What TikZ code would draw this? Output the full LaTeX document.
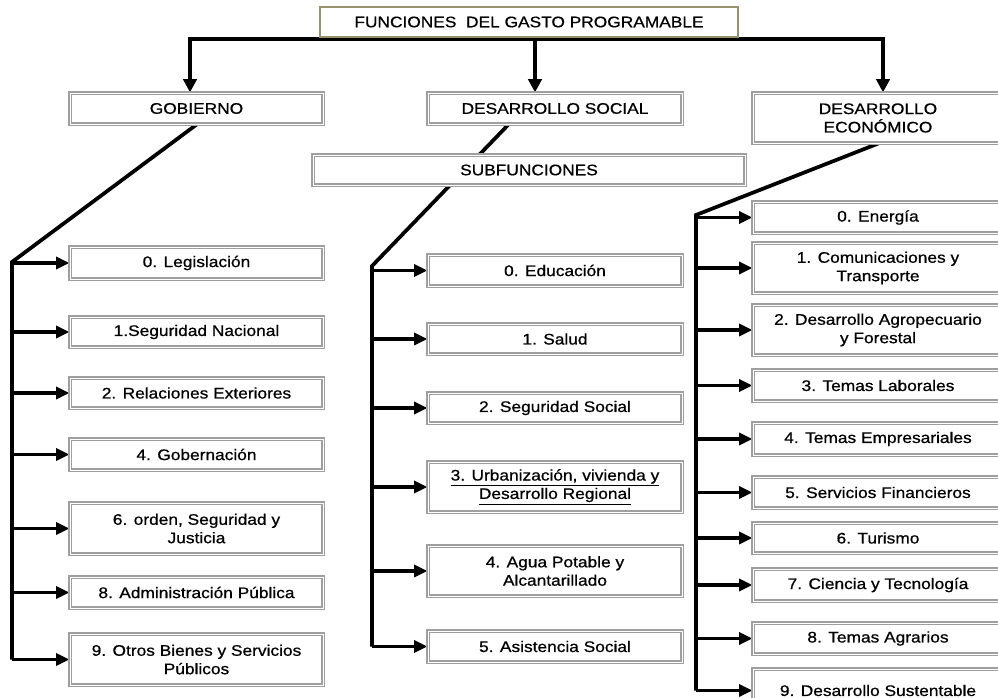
\documentclass[tikz,border=0pt]{standalone}
\usepackage{fontspec}
\setmainfont{Liberation Sans}[FakeStretch=1.13,FakeBold=0.7]
\usetikzlibrary{arrows.meta,backgrounds}
\definecolor{topborder}{RGB}{150,145,110}
\newcommand\mybox[6]{\node[box,minimum width={(#4-#2)*0.75pt},minimum height={(#5-#3)*0.75pt}] (#1) at ({(#2+#4)/2},{(#3+#5)/2}) {#6};}
\begin{document}
\begin{tikzpicture}[x=0.75pt,y=-0.75pt,
  box/.style={draw=gray!75,line width=0.9pt,double=white,double distance=0.6pt,fill=white,
    inner sep=0pt,align=center,font=\fontsize{11.5pt}{13.8pt}\selectfont},
  topbox/.style={draw=topborder,line width=1.2pt,fill=white,
    inner sep=0pt,align=center,font=\fontsize{11.5pt}{13.8pt}\selectfont},
  conn/.style={line width=2.8pt,line join=miter},
  arr/.style={line width=2.8pt,-{Triangle[length=10pt,width=9pt]}},
  tarr/.style={line width=2.8pt,-{Triangle[length=10pt,width=10pt]}}]
\useasboundingbox (0,0) rectangle (998,698);
\clip (0,0) rectangle (998,698);
% top level
\node[topbox,minimum width={418*0.75pt},minimum height={30*0.75pt}] (top) at (529,22) {FUNCIONES\ \ DEL GASTO PROGRAMABLE};
\mybox{gob}{70}{93}{323}{124}{GOBIERNO}
\mybox{ds}{428}{93}{682}{124}{DESARROLLO SOCIAL}
\mybox{de}{753}{93}{1003}{143}{DESARROLLO\\ECONÓMICO}
\mybox{sub}{313}{155}{745}{185}{SUBFUNCIONES}
% gobierno
\mybox{g0}{70}{247}{323}{279}{0. Legislación}
\mybox{g1}{70}{317}{323}{347}{1.Seguridad Nacional}
\mybox{g2}{70}{378}{323}{408}{2. Relaciones Exteriores}
\mybox{g4}{70}{439}{323}{470}{4. Gobernación}
\mybox{g6}{70}{503}{323}{554}{6. orden, Seguridad y\\Justicia}
\mybox{g8}{70}{577}{323}{608}{8. Administración Pública}
\mybox{g9}{70}{634}{323}{685}{9. Otros Bienes y Servicios\\Públicos}
% social
\mybox{s0}{428}{255}{682}{286}{0. Educación}
\mybox{s1}{428}{324}{682}{354}{1. Salud}
\mybox{s2}{428}{393}{682}{423}{2. Seguridad Social}
\mybox{s3}{428}{462}{682}{512}{\underline{3. Urbanización, vivienda y}\\\underline{Desarrollo Regional}}
\mybox{s4}{428}{546}{682}{596}{4. Agua Potable y\\Alcantarillado}
\mybox{s5}{428}{631}{682}{662}{5. Asistencia Social}
% economico
\mybox{e0}{753}{202}{1003}{233}{0. Energía}
\mybox{e1}{753}{243}{1003}{293}{1. Comunicaciones y\\Transporte}
\mybox{e2}{753}{305}{1003}{355}{2. Desarrollo Agropecuario\\y Forestal}
\mybox{e3}{753}{370}{1003}{401}{3. Temas Laborales}
\mybox{e4}{753}{423}{1003}{455}{4. Temas Empresariales}
\mybox{e5}{753}{477}{1003}{508}{5. Servicios Financieros}
\mybox{e6}{753}{523}{1003}{553}{6. Turismo}
\mybox{e7}{753}{569}{1003}{601}{7. Ciencia y Tecnología}
\mybox{e8}{753}{623}{1003}{654}{8. Temas Agrarios}
\mybox{e9}{753}{669}{1003}{712}{9. Desarrollo Sustentable}
\coordinate (h1) at (190,39);
\coordinate (h2) at (535,39);
\coordinate (h3) at (883,39);
\coordinate (gL) at (12,262);
\coordinate (sL) at (372,266);
\coordinate (eL) at (696,215);
\begin{scope}[on background layer]
\draw[conn,line cap=rect] (h1) -- (h3);
\draw[tarr] (h1) -- (h1 |- gob.north);
\draw[tarr] (h2) -- (h2 |- ds.north);
\draw[tarr] (h3) -- (h3 |- de.north);
\draw[conn] (gob.south) -- (gL) -- (gL |- g9.west);
\foreach \n in {g0,g1,g2,g4,g6,g8,g9} \draw[arr] (gL |- \n.west) -- (\n.west);
\draw[conn] ([xshift=60.75pt]ds.south west) -- (sL) -- (sL |- s5.west);
\foreach \n in {s0,s1,s2,s3,s4,s5} \draw[arr] (sL |- \n.west) -- (\n.west);
\draw[conn] (de.south) -- (eL) -- (eL |- e9.west);
\foreach \n in {e0,e1,e2,e3,e4,e5,e6,e7,e8,e9} \draw[arr] (eL |- \n.west) -- (\n.west);
\end{scope}
\end{tikzpicture}
\end{document}
